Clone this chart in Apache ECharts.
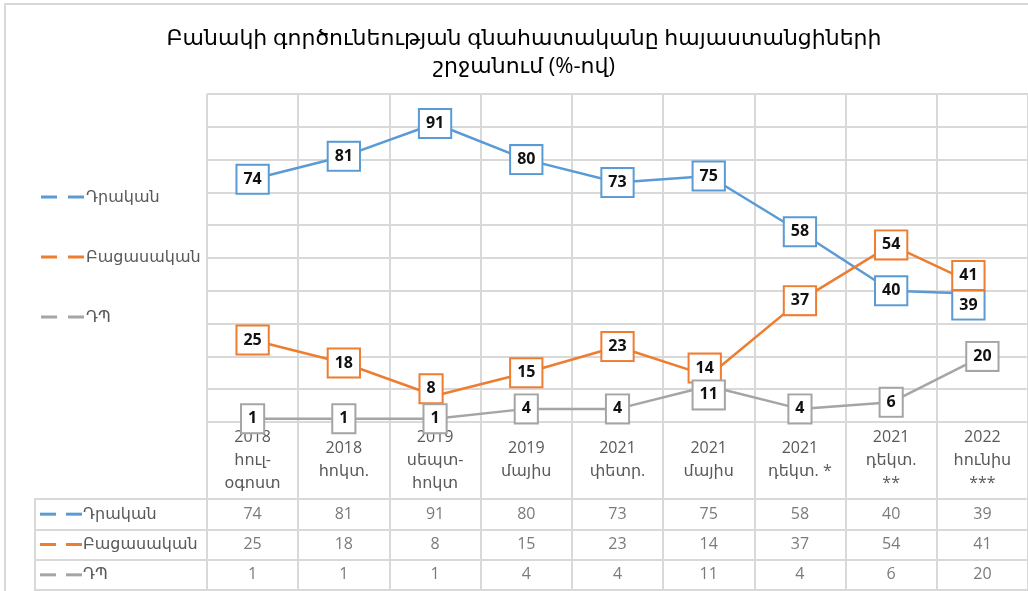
<!DOCTYPE html>
<html>
<head>
<meta charset="utf-8">
<script src="https://cdn.jsdelivr.net/npm/echarts@6/dist/echarts.min.js"></script>
<style>
  html, body { margin: 0; padding: 0; background: #fff; overflow: hidden; }
  #frame { position: absolute; left: 4px; top: 3px; width: 1100px; height: 700px; border: 2px solid #d9d9d9; }
  #chart { position: absolute; left: 0; top: 0; width: 1028px; height: 591px; }
</style>
</head>
<body>
<div id="frame"></div>
<div id="chart"></div>
<script>
// Survey: assessment of the army's performance among Armenians (%)
const title = 'Բանակի գործունեության գնահատականը հայաստանցիների\nշրջանում (%-ով)';
const categories = [
  '2018\nհուլ-\nօգոստ', '2018\nհոկտ.', '2019\nսեպտ-\nհոկտ', '2019\nմայիս',
  '2021\nփետր.', '2021\nմայիս', '2021\nդեկտ. *', '2021\nդեկտ.\n**', '2022\nհունիս\n***'
];
const seriesNames = ['Դրական', 'Բացասական', 'ԴՊ'];
const positive = [74, 81, 91, 80, 73, 75, 58, 40, 39];
const negative = [25, 18, 8, 15, 23, 14, 37, 54, 41];
const dontKnow = [1, 1, 1, 4, 4, 11, 4, 6, 20];

const COLORS = ['#5b9bd5', '#ed7d31', '#a5a5a5'];
const GRID_LINE = { color: '#d9d9d9', width: 2 };
const FONT = "'Open Sans', 'DejaVu Sans', sans-serif";
const TEXT_GRAY = '#595959';

// data labels nudged off their points where they collide (series -> point -> [dx, dy])
const labelShift = {
  1: { 2: [-4, -7], 5: [-4, -8], 8: [-14, -12] },
  0: { 8: [-14, 11] },
  2: { 5: [0, 9] },
};

const chart = echarts.init(document.getElementById('chart'));

function lineSeries(idx, values) {
  const color = COLORS[idx];
  const shifts = labelShift[idx] || {};
  return {
    name: seriesNames[idx], type: 'line', xAxisIndex: 0, yAxisIndex: 0,
    data: values.map((v, i) => shifts[i] ? { value: v, label: { offset: shifts[i] } } : v),
    symbol: 'circle', symbolSize: 2, showSymbol: true,
    lineStyle: { color, width: 2.5 }, itemStyle: { color },
    label: {
      show: true, position: 'inside', formatter: '{c}',
      fontFamily: FONT, fontWeight: 'bold', fontSize: 16, color: '#111',
      backgroundColor: '#fff', borderColor: color, borderWidth: 2,
      padding: [4, 6, 3, 6], lineHeight: 20,
    },
    emphasis: { disabled: true },
    animation: false,
  };
}

function tableSeries(idx, values) {
  return {
    type: 'scatter', xAxisIndex: 1, yAxisIndex: 1,
    data: values.map((v, i) => [i, idx, v]),
    symbolSize: 1, itemStyle: { color: 'transparent' }, silent: true,
    label: {
      show: true, position: 'inside', formatter: p => p.value[2],
      fontFamily: FONT, fontSize: 16, color: TEXT_GRAY,
    },
    animation: false,
  };
}

const dashRich = {};
COLORS.forEach((c, i) => { dashRich['d' + i] = { width: 16, height: 3, backgroundColor: c }; });
dashRich.s = { width: 10, height: 3 };
dashRich.t = { fontFamily: FONT, fontSize: 16, color: TEXT_GRAY, padding: [0, 0, 0, 1] };

chart.setOption({
  animation: false,
  title: {
    text: title, left: 519, top: 20, textAlign: 'center',
    textStyle: { fontFamily: FONT, fontSize: 22, fontWeight: 'normal', color: '#000', lineHeight: 28 },
  },
  legend: {
    orient: 'vertical', left: 36, top: 182, itemWidth: 43, itemHeight: 3, itemGap: 40,
    icon: 'path://M0,0h16v3h-16z M27,0h16v3h-16z',
    data: seriesNames, selectedMode: false,
    textStyle: { fontFamily: FONT, fontSize: 16, color: TEXT_GRAY, lineHeight: 20, padding: [0, 0, 0, -3] },
  },
  grid: [
    { left: 207, top: 94, width: 823.5, height: 328, containLabel: false },
    { left: 207, top: 499, width: 823.5, height: 91, show: true, borderColor: '#d9d9d9', borderWidth: 2 },
    { left: 35, top: 499, width: 172, height: 91, show: true, borderColor: '#d9d9d9', borderWidth: 2 },
  ],
  xAxis: [
    {
      gridIndex: 0, type: 'category', data: categories, boundaryGap: true,
      axisLine: { show: false },
      axisTick: { show: true, interval: 0, length: 77, lineStyle: GRID_LINE },
      axisLabel: {
        interval: 0, margin: 38, verticalAlign: 'middle', lineHeight: 23,
        fontFamily: FONT, fontSize: 16, color: TEXT_GRAY,
      },
      splitLine: { show: true, interval: 0, lineStyle: GRID_LINE },
    },
    {
      gridIndex: 1, type: 'category', data: categories, boundaryGap: true,
      axisLine: { show: false }, axisTick: { show: false }, axisLabel: { show: false },
      splitLine: { show: true, interval: 0, lineStyle: GRID_LINE },
    },
    { gridIndex: 2, type: 'value', show: false },
  ],
  yAxis: [
    {
      gridIndex: 0, type: 'value', min: 0, max: 100, interval: 10,
      axisLine: { show: false }, axisTick: { show: false }, axisLabel: { show: false },
      splitLine: { show: true, lineStyle: GRID_LINE },
    },
    {
      gridIndex: 1, type: 'category', data: seriesNames, inverse: true,
      axisLine: { show: false }, axisTick: { show: false },
      axisLabel: {
        show: true, align: 'left', margin: 167,
        formatter: (v, i) => `{d${i}|}{s|}{d${i}|}{t|${v}}`,
        rich: dashRich,
      },
      splitLine: { show: true, interval: 0, lineStyle: GRID_LINE },
    },
    {
      gridIndex: 2, type: 'category', data: seriesNames, inverse: true,
      axisLine: { show: false }, axisTick: { show: false }, axisLabel: { show: false },
      splitLine: { show: true, interval: 0, lineStyle: GRID_LINE },
    },
  ],
  series: [
    lineSeries(0, positive),
    lineSeries(1, negative),
    lineSeries(2, dontKnow),
    tableSeries(0, positive),
    tableSeries(1, negative),
    tableSeries(2, dontKnow),
  ],
});
</script>
</body>
</html>
